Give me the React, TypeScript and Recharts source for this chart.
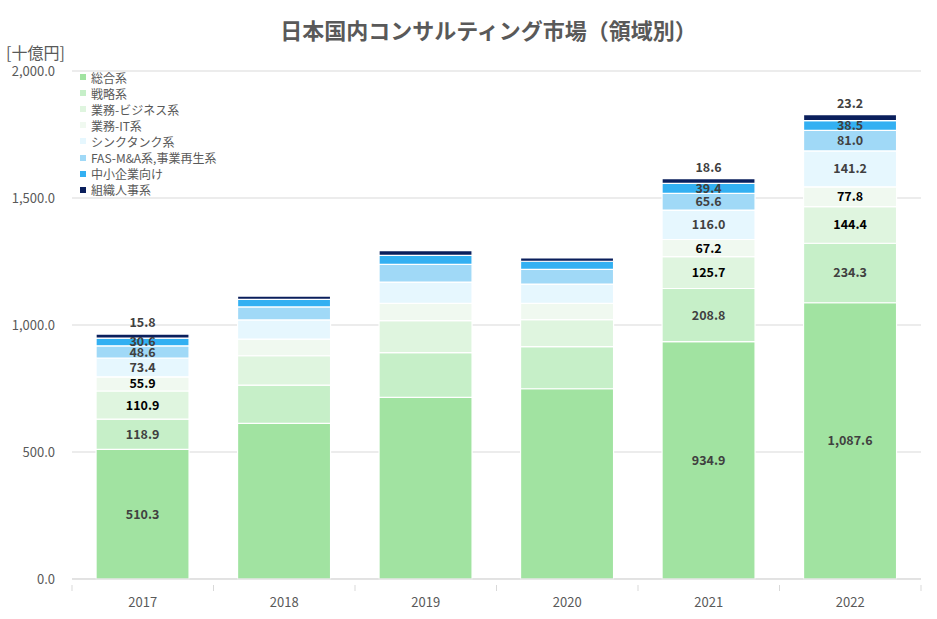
import { Bar, BarChart, CartesianGrid, LabelList, XAxis, YAxis } from 'recharts';

const years = ['2017', '2018', '2019', '2020', '2021', '2022'];
const labelledYears = ['2017', '2021', '2022'];

const sogo = [510.3, 613, 715, 749, 934.9, 1087.6];
const senryaku = [118.9, 150, 176, 166, 208.8, 234.3];
const gyomuBiz = [110.9, 116, 126, 106, 125.7, 144.4];
const gyomuIT = [55.9, 65, 68, 64, 67.2, 77.8];
const thinkTank = [73.4, 76, 84, 76, 116.0, 141.2];
const fasMa = [48.6, 51, 70, 58, 65.6, 81.0];
const smeFocus = [30.6, 30, 35, 32, 39.4, 38.5];
const hrOrg = [15.8, 13, 19, 13, 18.6, 23.2];

const yTicks = [0, 500, 1000, 1500, 2000];

const series = [
  { key: 'sogo', name: '総合系', values: sogo, color: '#a1e3a1', text: '#404040' },
  { key: 'senryaku', name: '戦略系', values: senryaku, color: '#c6efc8', text: '#404040' },
  { key: 'gyomuBiz', name: '業務-ビジネス系', values: gyomuBiz, color: '#dff5df', text: '#000000' },
  { key: 'gyomuIT', name: '業務-IT系', values: gyomuIT, color: '#f0f9f0', text: '#000000' },
  { key: 'thinkTank', name: 'シンクタンク系', values: thinkTank, color: '#e6f7fe', text: '#404040' },
  { key: 'fasMa', name: 'FAS-M&A系,事業再生系', values: fasMa, color: '#a0d9f7', text: '#404040' },
  { key: 'smeFocus', name: '中小企業向け', values: smeFocus, color: '#33b0f2', text: '#404040' },
  { key: 'hrOrg', name: '組織人事系', values: hrOrg, color: '#0a1f5c', text: '#404040' },
];

const data = years.map((year, i) => {
  const row: Record<string, string | number> = { year };
  series.forEach((s) => {
    row[s.key] = s.values[i];
  });
  return row;
});

const fmt = (v: number) =>
  v.toLocaleString('en-US', { minimumFractionDigits: 1, maximumFractionDigits: 1 });

const FONT = '"Noto Sans CJK JP", "Noto Sans", sans-serif';

function makeLabel(color: string, onTop: boolean) {
  return (props: any) => {
    const { x, y, width, height, value, index } = props;
    if (!labelledYears.includes(years[index])) return null;
    const cx = x + width / 2;
    const cy = onTop ? y - 7 : y + height / 2 + 4.5;
    return (
      <text
        x={cx}
        y={cy}
        textAnchor="middle"
        fontSize={12.5}
        fontWeight="bold"
        fontFamily={FONT}
        fill={color}
      >
        {fmt(value)}
      </text>
    );
  };
}

function XTick(props: any) {
  const { x, y, payload, index } = props;
  const half = 141.5 / 2;
  return (
    <g>
      <line x1={x - half} x2={x - half} y1={y - 2} y2={y + 4} stroke="#d9d9d9" />
      {index === years.length - 1 && (
        <line x1={x + half} x2={x + half} y1={y - 2} y2={y + 4} stroke="#d9d9d9" />
      )}
      <text x={x} y={y + 20} textAnchor="middle" fontSize={13} fill="#595959" fontFamily={FONT}>
        {payload.value}
      </text>
    </g>
  );
}

export default function App() {
  return (
    <div style={{ position: 'relative', width: 937, height: 619, background: '#fff', fontFamily: FONT }}>
      <style>{'body{margin:0}'}</style>
      <div
        style={{
          position: 'absolute',
          top: 13,
          left: 0,
          width: 977,
          textAlign: 'center',
          fontSize: 22,
          fontWeight: 'bold',
          color: '#595959',
        }}
      >
        日本国内コンサルティング市場（領域別）
      </div>
      <div style={{ position: 'absolute', top: 40, left: 6, fontSize: 16, color: '#595959' }}>
        [十億円]
      </div>
      <BarChart
        width={937}
        height={619}
        data={data}
        margin={{ top: 71, right: 16, bottom: 10, left: 0 }}
        barCategoryGap="17%"
      >
        <CartesianGrid vertical={false} stroke="#d9d9d9" />
        <XAxis
          dataKey="year"
          height={30}
          axisLine={{ stroke: '#d9d9d9' }}
          tickLine={false}
          tick={<XTick />}
          interval={0}
        />
        <YAxis
          width={72}
          domain={[0, 2000]}
          ticks={yTicks}
          axisLine={false}
          tickLine={false}
          tickSize={6}
          tickMargin={11}
          tickFormatter={(v) => fmt(v)}
          tick={{ fontSize: 13, fill: '#595959', fontFamily: FONT }}
        />
        {series.map((s, i) => (
          <Bar
            key={s.key}
            dataKey={s.key}
            name={s.name}
            stackId="a"
            fill={s.color}
            stroke="#ffffff"
            strokeWidth={1.2}
            isAnimationActive={false}
          >
            <LabelList dataKey={s.key} content={makeLabel(s.text, i === series.length - 1)} />
          </Bar>
        ))}
      </BarChart>
      <div style={{ position: 'absolute', left: 80, top: 69, fontSize: 12, color: '#595959' }}>
        {series.map((s) => (
          <div key={s.key} style={{ display: 'flex', alignItems: 'center', height: 16.1, whiteSpace: 'nowrap' }}>
            <span style={{ width: 6, height: 6, background: s.color, marginRight: 5, display: 'inline-block' }} />
            {s.name}
          </div>
        ))}
      </div>
    </div>
  );
}
